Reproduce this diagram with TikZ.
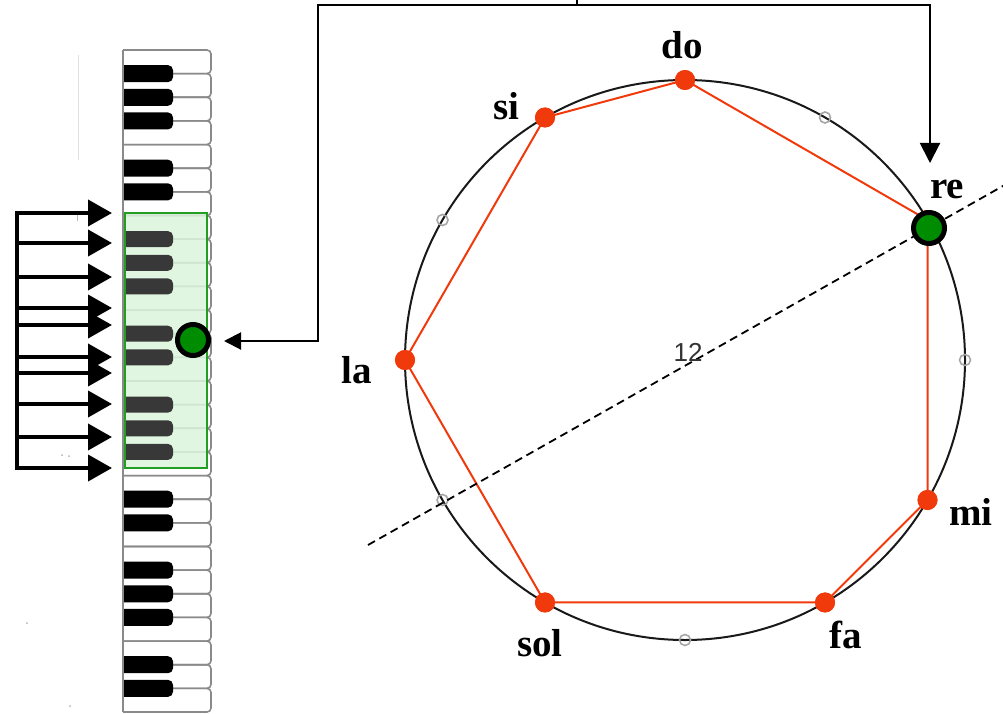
\documentclass[tikz,border=0pt]{standalone}
\usepackage{fontspec}
\setmainfont{Liberation Serif}
\setsansfont{Liberation Sans}
\usetikzlibrary{arrows.meta}

\definecolor{notered}{HTML}{F03A0C}
\definecolor{dotgreen}{HTML}{008C00}
\definecolor{boxgreen}{HTML}{229E22}
\definecolor{boxfill}{HTML}{DCF5DC}
\definecolor{keygray}{HTML}{8A8A8A}

\begin{document}
\begin{tikzpicture}[x=1pt,y=-1pt,
  notelabel/.style={font=\fontsize{39}{39}\selectfont\bfseries, anchor=base, inner sep=0pt},
  notedot/.style={circle, fill=notered, inner sep=0pt, minimum size=20pt},
  tickdot/.style={circle, draw=gray!70, line width=1.6pt, inner sep=0pt, minimum size=11pt},
  markdot/.style={circle, fill=dotgreen, draw=black, line width=5pt, inner sep=0pt, minimum size=31pt},
  whitekey/.style={draw=keygray, line width=1.6pt, rounded corners=4pt},
  blackkey/.style={fill=black, rounded corners=5pt},
  shadedkey/.style={fill=black!78, rounded corners=5pt},
  keyarrow/.style={line width=4pt, -{Triangle[length=24pt,width=26pt]}},
  linkarrow/.style={line width=2pt, {Triangle[length=17pt,width=17pt]}-{Triangle[length=20pt,width=20pt]}},
]
\useasboundingbox (0,0) rectangle (1003,714);

% ---------- keyboard (four octaves, high notes at the top) ----------
\def\kh{23.643}
\foreach \i in {0,...,27}{
  \pgfmathsetmacro\ya{50+\i*\kh}
  \pgfmathsetmacro\yb{50+(\i+1)*\kh}
  \draw[whitekey] (123,\ya) -- (211,\ya) -- (211,\yb) -- (123,\yb);
}

% highlighted octave background
\fill[boxfill, opacity=0.85] (125,213) rectangle (207,468);

% black keys; their left ends are cut off by the keyboard edge
\begin{scope}
  \clip (123,0) rectangle (300,714);
  \foreach \b in {1,2,3,5,6, 19,20, 22,23,24,26,27}{
    \pgfmathsetmacro\yc{50+\b*\kh}
    \fill[blackkey] (110,\yc-8.5) rectangle (173,\yc+8.5);
  }
  \foreach \b in {8,9,10,12,13,15,16,17}{
    \pgfmathsetmacro\yc{50+\b*\kh}
    \fill[shadedkey] (110,\yc-8) rectangle (173,\yc+8);
  }
\end{scope}
\draw[draw=keygray, line width=1.6pt] (123,50) -- (123,712);
\draw[boxgreen, line width=1.5pt] (125,213) rectangle (207,468);

% faint specks on the left margin
\draw[gray!25, line width=0.8pt] (78,55) -- (78,160);
\draw[gray!55, line width=1pt] (77,214) -- (77,221);
\fill[gray!60] (62,455) circle[radius=1pt] (69,456) circle[radius=1pt];
\fill[gray!60] (27,623) circle[radius=1pt] (70,706) circle[radius=1pt];

% ---------- the ten input arrows ----------
\foreach \y [count=\k] in {213,243,277,308,325,357,373,404,437,468}{
  \coordinate (src\k) at (17,\y);
  \coordinate (dst\k) at (112,\y);
  \draw[keyarrow] (src\k) -- (dst\k);
}
\draw[line width=4pt, line cap=rect] (src1) -- (src10);

% ---------- pitch circle ----------
\coordinate (ctr) at (685,360);
\draw[line width=2pt, black!90] (ctr) circle[radius=280pt];

\node[notedot] (do)  at (685,80) {};
\node[tickdot] (t1)  at (825,117.5) {};
\node[notedot] (re)  at (927.49,220) {};
\node[tickdot] (t3)  at (965,360) {};
\node[notedot] (mi)  at (927.49,500) {};
\node[notedot] (fa)  at (825,602.49) {};
\node[tickdot] (t6)  at (685,640) {};
\node[notedot] (sol) at (545,602.49) {};
\node[tickdot] (t8)  at (442.51,500) {};
\node[notedot] (la)  at (405,360) {};
\node[tickdot] (t10) at (442.51,220) {};
\node[notedot] (si)  at (545,117.5) {};

\draw[notered, line width=2pt] (do.center) -- (re.center) -- (mi.center) -- (fa.center)
  -- (sol.center) -- (la.center) -- (si.center) -- cycle;
\foreach \n in {do,re,mi,fa,sol,la,si}{ \node[notedot] at (\n) {}; }

% symmetry axis through the marked note
\coordinate (axisL) at (368,545);
\coordinate (axisR) at (1010,182);
\draw[line width=1.8pt, dash pattern=on 8pt off 5pt] (axisL) -- (axisR);
\node[font=\sffamily\fontsize{26}{26}\selectfont, text=black!80] (twelve) at (688,352) {12};

\node[markdot] (reMark) at (929,228) {};
\node[markdot] (keyMark) at (193,340) {};

% labels
\node[notelabel] (doL)  at (682,59)  {do};
\node[notelabel] (siL)  at (506,120) {si};
\node[notelabel] (reL)  at (947,198) {re};
\node[notelabel] (laL)  at (357,383) {la};
\node[notelabel] (miL)  at (971,525) {mi};
\node[notelabel] (faL)  at (846,648) {fa};
\node[notelabel] (solL) at (540,656) {sol};

% ---------- link between keyboard and circle ----------
\coordinate (keyTip) at (224,341);
\coordinate (reTip)  at (930,163);
\coordinate (hub)    at (577,5);
\coordinate (hubTop) at (577,-2);
\draw[linkarrow] (keyTip) -- (318,341) -- (318,5) -- (930,5) -- (reTip);
\draw[line width=2pt] (hub) -- (hubTop);
\end{tikzpicture}
\end{document}
